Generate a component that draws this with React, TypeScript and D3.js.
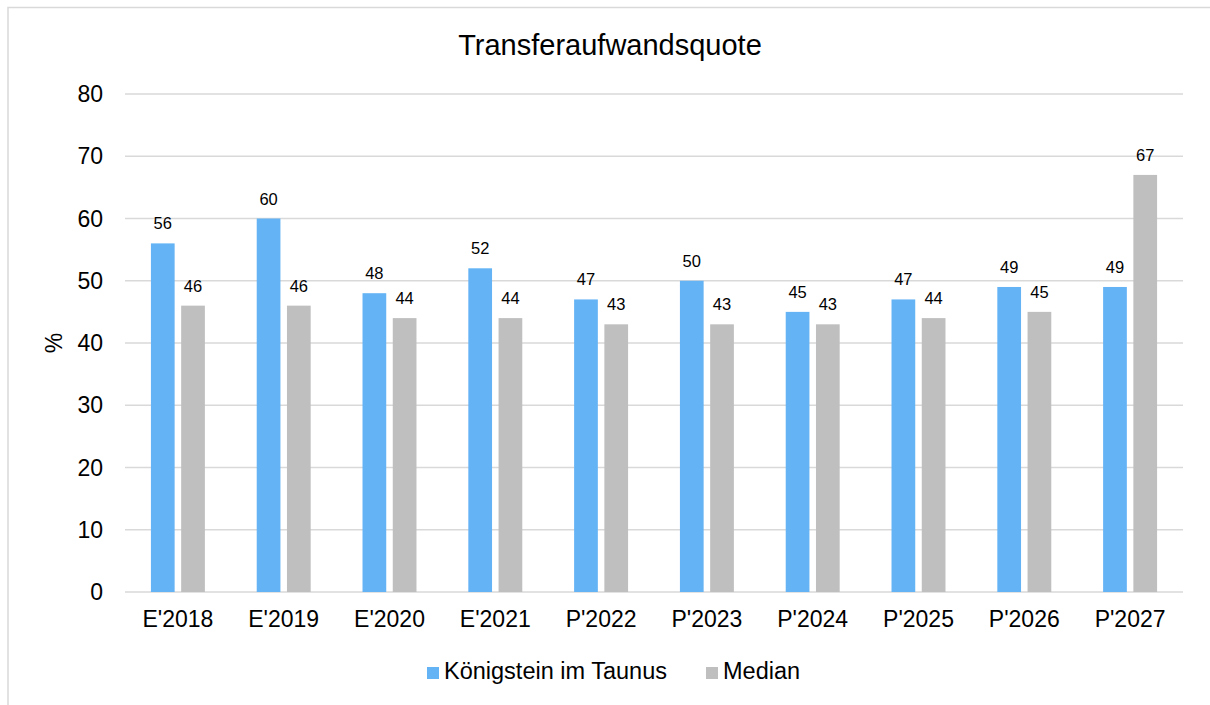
import {useEffect, useRef} from 'react';
import * as d3 from 'd3';

const categories = ["E'2018", "E'2019", "E'2020", "E'2021", "P'2022", "P'2023", "P'2024", "P'2025", "P'2026", "P'2027"];
const seriesNames = ['Königstein im Taunus', 'Median'];
const koenigstein = [56, 60, 48, 52, 47, 50, 45, 47, 49, 49];
const median = [46, 46, 44, 44, 43, 43, 43, 44, 45, 67];
const yTicks = [0, 10, 20, 30, 40, 50, 60, 70, 80];
const colors = ['#63B3F5', '#BFBFBF'];

const W = 1210;
const H = 705;
const margin = {top: 94, right: 27, bottom: 113, left: 125};
const FONT = '"Liberation Sans", Arial, sans-serif';

export default function App() {
    const svgRef = useRef<SVGSVGElement>(null);

    useEffect(() => {
        const svg = d3.select(svgRef.current);
        svg.selectAll('*').remove();

        // frame of the chart area (only top and left edges visible)
        svg.append('rect')
            .attr('x', 8).attr('y', 7.5)
            .attr('width', W + 10).attr('height', H + 10)
            .attr('fill', 'none')
            .attr('stroke', '#D9D9D9')
            .attr('stroke-width', 1.5);

        const innerW = W - margin.left - margin.right;
        const innerH = H - margin.top - margin.bottom;
        const g = svg.append('g').attr('transform', `translate(${margin.left},${margin.top})`);

        const x0 = d3.scaleBand().domain(categories).range([0, innerW]).paddingInner(0.49).paddingOuter(0.245);
        const x1 = d3.scaleBand().domain(seriesNames).range([0, x0.bandwidth()]).paddingInner(0.216);
        const y = d3.scaleLinear().domain([0, 80]).range([innerH, 0]);

        // gridlines
        g.selectAll('.grid').data(yTicks).enter().append('line')
            .attr('x1', 0).attr('x2', innerW)
            .attr('y1', d => y(d)).attr('y2', d => y(d))
            .attr('stroke', '#D9D9D9').attr('stroke-width', 1.5);

        // y tick labels
        g.selectAll('.ytick').data(yTicks).enter().append('text')
            .attr('x', -22).attr('y', d => y(d))
            .attr('dy', '0.35em')
            .attr('text-anchor', 'end')
            .style('font-family', FONT).style('font-size', '23px').attr('fill', '#000')
            .text(d => d);

        // x tick labels
        g.selectAll('.xtick').data(categories).enter().append('text')
            .attr('x', d => x0(d)! + x0.bandwidth() / 2)
            .attr('y', innerH + 35)
            .attr('text-anchor', 'middle')
            .style('font-family', FONT).style('font-size', '23px').attr('fill', '#000')
            .text(d => d);

        const series = [koenigstein, median];
        series.forEach((vals, si) => {
            const name = seriesNames[si];
            const grp = g.append('g');
            grp.selectAll('rect').data(vals).enter().append('rect')
                .attr('x', (d, i) => x0(categories[i])! + x1(name)!)
                .attr('width', x1.bandwidth())
                .attr('y', d => y(d))
                .attr('height', d => innerH - y(d))
                .attr('fill', colors[si]);
            grp.selectAll('text').data(vals).enter().append('text')
                .attr('x', (d, i) => x0(categories[i])! + x1(name)! + x1.bandwidth() / 2)
                .attr('y', d => y(d) - 14)
                .attr('text-anchor', 'middle')
                .style('font-family', FONT).style('font-size', '16.5px').attr('fill', '#000')
                .text(d => d);
        });

        // title
        svg.append('text')
            .attr('x', 610).attr('y', 55)
            .attr('text-anchor', 'middle')
            .style('font-family', FONT).style('font-size', '29px').attr('fill', '#000')
            .text('Transferaufwandsquote');

        // y axis label
        svg.append('text')
            .attr('transform', `translate(62,${margin.top + innerH / 2}) rotate(-90)`)
            .attr('text-anchor', 'middle')
            .style('font-family', FONT).style('font-size', '23px').attr('fill', '#000')
            .text('%');

        // legend
        const legendItems = [
            {name: seriesNames[0], x: 427},
            {name: seriesNames[1], x: 706},
        ];
        legendItems.forEach((item, i) => {
            svg.append('rect')
                .attr('x', item.x).attr('y', 667)
                .attr('width', 12).attr('height', 12)
                .attr('fill', colors[i]);
            svg.append('text')
                .attr('x', item.x + 17).attr('y', 679)
                .style('font-family', FONT).style('font-size', '23.5px').attr('fill', '#000')
                .text(item.name);
        });
    }, []);

    return (
        <svg ref={svgRef} width={W} height={H}
             style={{position: 'absolute', left: 0, top: 0, background: '#fff'}}></svg>
    );
}
